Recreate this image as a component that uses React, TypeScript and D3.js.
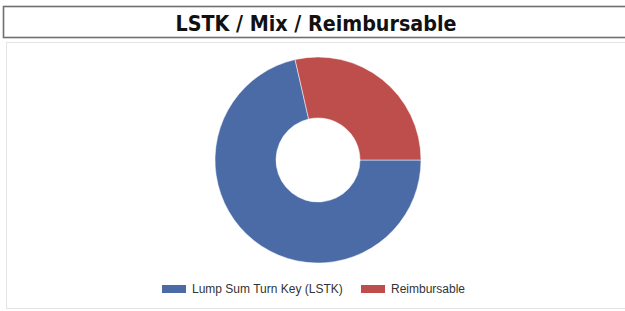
import React from 'react';
import * as d3 from 'd3';

// Chart data
const categories = ['Lump Sum Turn Key (LSTK)', 'Reimbursable'];
const values = [5, 2];
const colors = ['#4b6ba6', '#bd4e4b'];
const title = 'LSTK / Mix / Reimbursable';

const App = () => {
    const width = 625;
    const height = 311;
    const cx = 318;
    const cy = 160;
    const outerR = 103;
    const innerR = 42;

    // Pie starts at 3 o'clock and goes clockwise
    const pie = d3.pie<number>()
        .sort(null)
        .startAngle(Math.PI / 2)
        .endAngle(Math.PI / 2 + 2 * Math.PI);
    const arcs = pie(values);
    const arc = d3.arc<d3.PieArcDatum<number>>()
        .innerRadius(innerR)
        .outerRadius(outerR);

    // Legend layout
    const legendY = 289;
    const legendX = d3.scaleOrdinal<string, number>()
        .domain(categories)
        .range([162, 361]);

    return (
        <div style={{ position: 'fixed', left: 0, top: 0 }}>
            <svg width={width} height={height} style={{ display: 'block', background: '#fff' }}>
                {/* outer panel */}
                <rect x={6.5} y={42.5} width={640} height={266} fill="none" stroke="#e4e4e4" strokeWidth={1} />
                {/* title box */}
                <rect x={3.5} y={6.5} width={640} height={31} fill="#fff" stroke="#6f6f6f" strokeWidth={1.6} />
                <text
                    x={316}
                    y={31}
                    textAnchor="middle"
                    fontFamily="DejaVu Sans Condensed, DejaVu Sans"
                    fontWeight="bold"
                    fontSize={21}
                    textLength={281}
                    lengthAdjust="spacingAndGlyphs"
                    fill="#111"
                >
                    {title}
                </text>

                <g transform={`translate(${cx},${cy})`}>
                    {arcs.map((d, i) => (
                        <path key={i} d={arc(d) || ''} fill={colors[i]} stroke="#fff" strokeWidth={0.5} />
                    ))}
                </g>

                {categories.map((c, i) => (
                    <g key={c} transform={`translate(${legendX(c)},${legendY})`}>
                        <rect x={0} y={-4} width={24} height={8} fill={colors[i]} />
                        <text
                            x={30}
                            y={4}
                            fontFamily="Liberation Sans, Arial"
                            fontSize={12}
                            fill="#333"
                        >
                            {c}
                        </text>
                    </g>
                ))}
            </svg>
        </div>
    );
};

export default App;
